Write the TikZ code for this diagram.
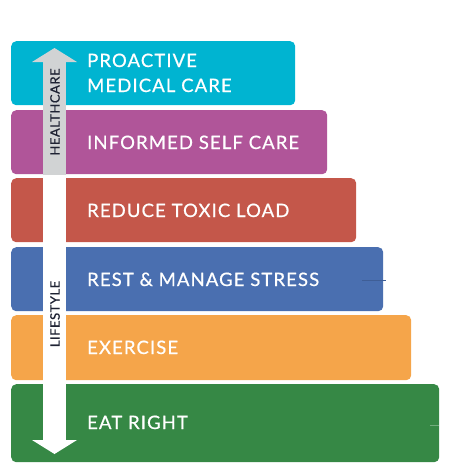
\documentclass[tikz,border=0pt]{standalone}
\usepackage{fontspec}
\setmainfont{Lato}
\definecolor{cCyan}{HTML}{00B4D1}
\definecolor{cPurple}{HTML}{B05599}
\definecolor{cRed}{HTML}{C4574A}
\definecolor{cBlue}{HTML}{4A6FB0}
\definecolor{cOrange}{HTML}{F5A54A}
\definecolor{cGreen}{HTML}{368845}
\definecolor{cGray}{HTML}{D1D3D4}
\definecolor{cDark}{HTML}{1E2233}
\begin{document}
\begin{tikzpicture}[x=1pt,y=-1pt,
  tier/.style={rectangle,rounded corners=5pt,inner sep=0pt,anchor=north west,minimum height=64pt},
  label/.style={anchor=base west,inner sep=0pt,text=white,font=\fontsize{18.5}{25}\selectfont\addfontfeatures{LetterSpace=6,FakeBold=0.7}},
  sidelabel/.style={inner sep=0pt,text=cDark,rotate=90,font=\fontsize{13}{14}\selectfont\addfontfeatures{LetterSpace=4,FakeBold=0.7}}]
\useasboundingbox (0,0) rectangle (464,475);
\node[tier,fill=cCyan,minimum width=284pt] (t1) at (11,41) {};
\node[tier,fill=cPurple,minimum width=316pt] (t2) at (11,110) {};
\node[tier,fill=cRed,minimum width=345pt] (t3) at (11,178) {};
\node[tier,fill=cBlue,minimum width=372pt] (t4) at (11,247) {};
\node[tier,fill=cOrange,minimum width=400pt,minimum height=65pt] (t5) at (11,315) {};
\node[tier,fill=cGreen,minimum width=428pt,minimum height=78pt] (t6) at (11,384) {};
% small stubs
\coordinate (s1a) at (362,280); \coordinate (s1b) at (386,280);
\draw[cBlue!85!black,line width=0.8pt] (s1a) -- (s1b);
\coordinate (s2a) at (430,425); \coordinate (s2b) at (439,425);
\draw[cGreen!70!white,line width=0.8pt] (s2a) -- (s2b);
% arrow
\fill[white] (43,175) rectangle (66,440);
\fill[white] (32,440) -- (77,440) -- (54.5,454) -- cycle;
\fill[cGray] (43,62) rectangle (66,175);
\fill[cGray] (32,62) -- (77,62) -- (54.5,48) -- cycle;
\node[sidelabel] (hc) at (55,112) {HEALTHCARE};
\node[sidelabel] (ls) at (55,314) {LIFESTYLE};
% labels
\node[label] (l1a) at (87,67) {PROACTIVE};
\node[label] (l1b) at (87,92) {MEDICAL CARE};
\node[label] (l2) at (87,149) {INFORMED SELF CARE};
\node[label] (l3) at (87,217) {REDUCE TOXIC LOAD};
\node[label] (l4) at (87,286) {REST \& MANAGE STRESS};
\node[label] (l5) at (87,354) {EXERCISE};
\node[label] (l6) at (87,429) {EAT RIGHT};
\end{tikzpicture}
\end{document}
